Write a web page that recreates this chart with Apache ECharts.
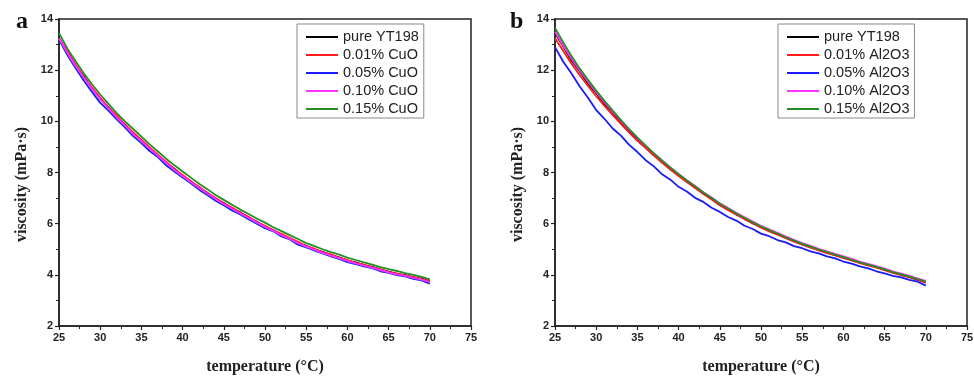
<!DOCTYPE html>
<html>
<head>
<meta charset="utf-8">
<script src="https://cdn.jsdelivr.net/npm/echarts@6/dist/echarts.min.js"></script>
<style>
  html, body { margin: 0; padding: 0; background: #fff; }
  #chart { width: 974px; height: 376px; }
</style>
</head>
<body>
<div id="chart"></div>
<script>
// temperature (°C), one reading per degree
const temps = [25,26,27,28,29,30,31,32,33,34,35,36,37,38,39,40,41,42,43,44,45,46,47,48,49,50,
  51,52,53,54,55,56,57,58,59,60,61,62,63,64,65,66,67,68,69,70]

const xTicks = { min: 25, max: 75, interval: 5 }
const yTicks = { min: 2, max: 14, interval: 2 }

// panel a: CuO
const namesA = ['pure YT198', '0.01% CuO', '0.05% CuO', '0.10% CuO', '0.15% CuO']
const pureA = [13.25,12.72,12.18,11.76,11.28,10.9,10.55,10.18,9.88,9.53,9.26,8.95,8.68,8.38,8.15,7.87,7.66,7.41,7.21,6.98,6.81,6.6,6.44,6.24,6.08,5.89,5.75,5.57,5.43,5.26,5.13,4.99,4.9,4.77,4.68,4.56,4.49,4.38,4.31,4.2,4.13,4.04,3.99,3.9,3.85,3.75]
const cu01 = [13.22,12.75,12.22,11.72,11.32,10.92,10.52,10.22,9.86,9.57,9.27,8.98,8.69,8.42,8.12,7.9,7.64,7.44,7.19,7.0,6.79,6.63,6.42,6.27,6.06,5.92,5.73,5.6,5.44,5.29,5.11,5.02,4.88,4.8,4.66,4.58,4.47,4.4,4.29,4.22,4.11,4.06,3.97,3.92,3.83,3.78]
const cu05 = [13.2,12.6,12.08,11.6,11.15,10.72,10.42,10.08,9.76,9.42,9.15,8.84,8.6,8.28,8.04,7.8,7.58,7.33,7.12,6.9,6.72,6.52,6.36,6.17,6.0,5.82,5.7,5.5,5.38,5.18,5.07,4.95,4.84,4.72,4.62,4.5,4.42,4.33,4.26,4.14,4.08,3.99,3.94,3.84,3.78,3.66]
const cu10 = [13.24,12.68,12.16,11.7,11.26,10.86,10.5,10.15,9.83,9.5,9.22,8.93,8.65,8.37,8.1,7.85,7.62,7.39,7.18,6.96,6.77,6.58,6.4,6.22,6.05,5.87,5.72,5.55,5.4,5.24,5.1,4.98,4.86,4.75,4.65,4.54,4.45,4.36,4.28,4.18,4.1,4.02,3.96,3.88,3.81,3.72]
const cu15 = [13.45,12.85,12.36,11.88,11.45,11.05,10.68,10.32,10.0,9.7,9.4,9.1,8.82,8.54,8.28,8.04,7.8,7.56,7.35,7.12,6.93,6.74,6.55,6.38,6.2,6.04,5.86,5.71,5.55,5.4,5.24,5.12,5.0,4.89,4.79,4.67,4.58,4.49,4.4,4.3,4.22,4.15,4.07,4.0,3.92,3.82]

// panel b: Al2O3
const namesB = ['pure YT198', '0.01% Al2O3', '0.05% Al2O3', '0.10% Al2O3', '0.15% Al2O3']
const pureB = [13.45,12.92,12.38,11.95,11.48,11.1,10.68,10.35,9.96,9.64,9.28,9.0,8.68,8.43,8.13,7.91,7.64,7.43,7.17,6.98,6.73,6.57,6.36,6.21,6.01,5.88,5.72,5.6,5.45,5.34,5.19,5.1,4.97,4.89,4.77,4.69,4.57,4.49,4.38,4.31,4.19,4.11,4.0,3.93,3.81,3.72]
const al01 = [13.25,12.75,12.25,11.8,11.38,10.98,10.6,10.24,9.9,9.56,9.24,8.95,8.66,8.38,8.12,7.86,7.63,7.39,7.17,6.94,6.72,6.53,6.36,6.17,6.02,5.84,5.7,5.57,5.43,5.3,5.18,5.06,4.96,4.85,4.76,4.65,4.56,4.46,4.37,4.28,4.18,4.08,3.99,3.9,3.8,3.68]
const al05 = [12.9,12.33,11.87,11.36,10.92,10.44,10.1,9.72,9.44,9.08,8.8,8.48,8.24,7.93,7.72,7.44,7.26,7.01,6.85,6.62,6.46,6.26,6.12,5.92,5.79,5.61,5.51,5.36,5.27,5.12,5.04,4.92,4.84,4.72,4.64,4.52,4.44,4.33,4.25,4.14,4.06,3.96,3.9,3.8,3.73,3.58]
const al10 = [13.5,12.95,12.45,11.98,11.55,11.14,10.74,10.38,10.02,9.67,9.34,9.04,8.75,8.47,8.2,7.94,7.7,7.47,7.23,7.02,6.8,6.61,6.43,6.25,6.08,5.92,5.78,5.64,5.5,5.37,5.24,5.13,5.02,4.92,4.82,4.72,4.62,4.52,4.43,4.34,4.24,4.14,4.05,3.96,3.86,3.76]
const al15 = [13.65,13.08,12.55,12.06,11.62,11.2,10.8,10.42,10.05,9.7,9.36,9.05,8.75,8.46,8.19,7.93,7.69,7.45,7.22,7.0,6.78,6.59,6.4,6.22,6.05,5.89,5.75,5.61,5.47,5.34,5.21,5.1,4.99,4.89,4.79,4.69,4.59,4.49,4.4,4.31,4.21,4.11,4.02,3.93,3.83,3.73]

const colors = ['#000000', '#ff1a1a', '#1a1aff', '#ff33ff', '#238c23']
const valuesA = [pureA, cu01, cu05, cu10, cu15]
const valuesB = [pureB, al01, al05, al10, al15]

const sans = 'Liberation Sans, Arial, sans-serif'
const serif = 'Liberation Serif, Times New Roman, serif'
const axisColor = '#222'

const xAxisOf = (gridIndex) => ({
  type: 'value',
  gridIndex,
  ...xTicks,
  name: 'temperature (°C)',
  nameLocation: 'middle',
  nameGap: 33,
  nameTextStyle: { fontFamily: serif, fontWeight: 'bold', fontSize: 16, color: '#222' },
  axisLine: { show: true, lineStyle: { color: axisColor, width: 1.5 } },
  axisTick: { show: true, inside: false, length: 4, lineStyle: { color: axisColor, width: 1.2 } },
  minorTick: { show: true, splitNumber: 2, length: 3, lineStyle: { color: axisColor, width: 1 } },
  axisLabel: { fontFamily: sans, fontWeight: 'bold', fontSize: 11, color: '#222', margin: 6 },
  splitLine: { show: false },
})

const yAxisOf = (gridIndex) => ({
  type: 'value',
  gridIndex,
  ...yTicks,
  name: 'viscosity (mPa·s)',
  nameLocation: 'middle',
  nameGap: 29,
  nameTextStyle: { fontFamily: serif, fontWeight: 'bold', fontSize: 16, color: '#222', padding: [0, 24, 0, 0] },
  axisLine: { show: true, lineStyle: { color: axisColor, width: 1.5 } },
  axisTick: { show: true, inside: false, length: 4, lineStyle: { color: axisColor, width: 1.2 } },
  minorTick: { show: true, splitNumber: 2, length: 3, lineStyle: { color: axisColor, width: 1 } },
  axisLabel: { fontFamily: sans, fontWeight: 'bold', fontSize: 11, color: '#222', margin: 6 },
  splitLine: { show: false },
})

const seriesOf = (names, values, idx) => names.map((name, i) => ({
  name,
  type: 'line',
  xAxisIndex: idx,
  yAxisIndex: idx,
  symbol: 'none',
  smooth: false,
  lineStyle: { width: 1.8, color: colors[i] },
  itemStyle: { color: colors[i] },
  data: temps.map((t, k) => [t, values[i][k]]),
}))

const legendOf = (names, left) => ({
  data: names,
  left,
  top: 24,
  orient: 'vertical',
  icon: 'rect',
  itemWidth: 32,
  itemHeight: 2,
  itemGap: 2,
  itemStyle: { borderWidth: 0 },
  padding: [5, 5, 1, 9],
  borderColor: '#8a8a8a',
  borderWidth: 1,
  selectedMode: false,
  textStyle: { fontFamily: sans, fontSize: 14.5, color: '#222', lineHeight: 16 },
})

const gridOf = (left, right) => ({
  left, right, top: 19, bottom: 50,
  outerBoundsMode: 'none',
  show: true, borderColor: axisColor, borderWidth: 1.5,
})

const chart = echarts.init(document.getElementById('chart'))
chart.setOption({
  animation: false,
  backgroundColor: '#fff',
  grid: [gridOf(59, 503), gridOf(555, 7)],
  xAxis: [xAxisOf(0), xAxisOf(1)],
  yAxis: [yAxisOf(0), yAxisOf(1)],
  legend: [legendOf(namesA, 297), legendOf(namesB, 778)],
  graphic: [
    { type: 'text', left: 16, top: 10, style: { text: 'a', fontFamily: serif, fontWeight: 'bold', fontSize: 24, fill: '#111' } },
    { type: 'text', left: 510, top: 10, style: { text: 'b', fontFamily: serif, fontWeight: 'bold', fontSize: 24, fill: '#111' } },
  ],
  series: [...seriesOf(namesA, valuesA, 0), ...seriesOf(namesB, valuesB, 1)],
})
</script>
</body>
</html>
